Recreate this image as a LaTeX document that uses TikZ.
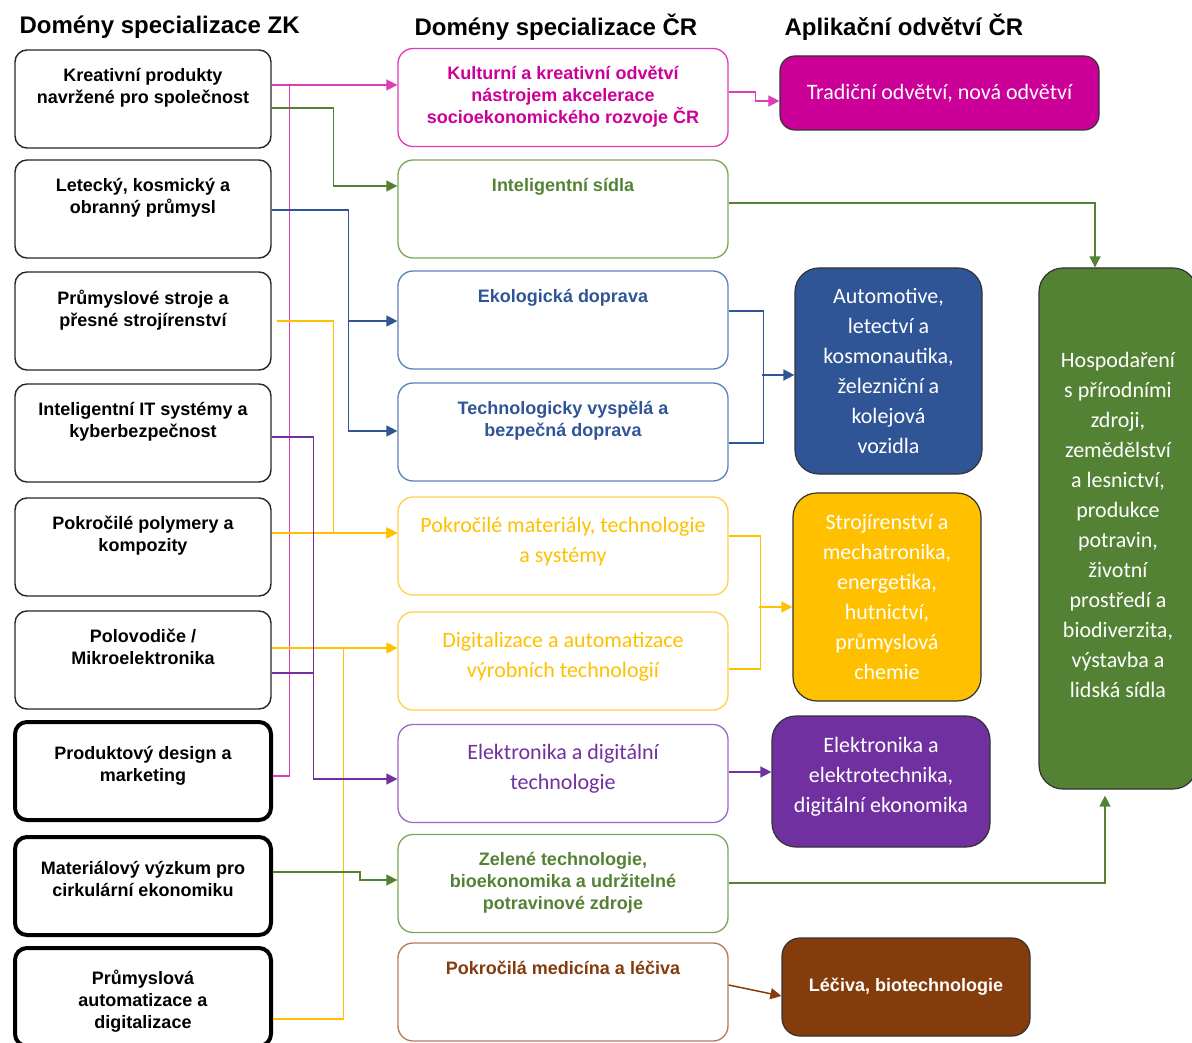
\documentclass[tikz,border=0pt]{standalone}
\usepackage{fontspec}
\setmainfont{Liberation Sans}
\newfontfamily\calibri{Carlito}
\usetikzlibrary{arrows.meta,positioning}

\definecolor{magC}{HTML}{CC0099}
\definecolor{magB}{HTML}{DC3CB6}
\definecolor{grnC}{HTML}{548235}
\definecolor{grnB}{HTML}{7AA65A}
\definecolor{bluC}{HTML}{2F5597}
\definecolor{bluB}{HTML}{5F80BE}
\definecolor{yelC}{HTML}{FFC000}
\definecolor{yelB}{HTML}{FFD04A}
\definecolor{purC}{HTML}{7030A0}
\definecolor{purB}{HTML}{9A68C6}
\definecolor{brnC}{HTML}{843C0C}
\definecolor{brnB}{HTML}{B47A58}

\begin{document}
\begin{tikzpicture}[x=1pt, y=-1pt,
    font=\fontsize{18}{22}\selectfont\bfseries,
    title/.style={anchor=west, font=\fontsize{24}{29}\selectfont\bfseries},
    lbox/.style={rectangle, draw=black!85, line width=1.4pt, rounded corners=12pt, minimum width=256pt, minimum height=98pt},
    lboxt/.style={lbox, draw=black, line width=4pt},
    mbox/.style={rectangle, draw=#1, line width=1.3pt, rounded corners=15pt, minimum width=330pt, minimum height=98pt},
    rbox/.style={rectangle, draw=black!80, line width=1.2pt, fill=#1, text=white, align=center, rounded corners=24pt, font=\calibri\fontsize{22}{30}\selectfont},
    ttxt/.style={anchor=north, align=center, yshift=-15pt},
    ctxt/.style={anchor=north, align=center, yshift=-17pt, font=\calibri\fontsize{22}{30}\selectfont},
    arr/.style={-{Triangle[length=11pt,width=11pt]}},
    link/.style={draw=#1, line width=1.5pt},
]
\useasboundingbox (0,0) rectangle (1192,1043);

% column titles
\node[title] (tzk) at (16,27) {Domény specializace ZK};
\node[title] (tcr) at (411,27) {Domény specializace ČR};
\node[title] (tap) at (781,27) {Aplikační odvětví ČR};

% left column
\node[lbox, label={[ttxt]north:Kreativní produkty\\navržené pro společnost}] (k1) at (143,99) {};
\node[lbox, label={[ttxt]north:Letecký, kosmický a\\obranný průmysl}] (k2) at (143,209) {};
\node[lbox, label={[ttxt]north:Průmyslové stroje a\\přesné strojírenství}] (k3) at (143,321) {};
\node[lbox, label={[ttxt]north:Inteligentní IT systémy a\\kyberbezpečnost}] (k4) at (143,433) {};
\node[lbox, label={[ttxt]north:Pokročilé polymery a\\kompozity}] (k5) at (143,547) {};
\node[lbox, label={[ttxt]north:Polovodiče /\\Mikroelektronika}] (k6) at (143,660) {};
\node[lboxt, label={[ttxt, yshift=-8pt]north:Produktový design a\\marketing}] (k7) at (143,771) {};
\node[lboxt, label={[ttxt, yshift=-8pt]north:Materiálový výzkum pro\\cirkulární ekonomiku}] (k8) at (143,886) {};
\node[lboxt, label={[ttxt, yshift=-6pt]north:Průmyslová\\automatizace a\\digitalizace}] (k9) at (143,997) {};

% middle column
\node[mbox=magB, label={[ttxt, text=magC]north:Kulturní a kreativní odvětví\\nástrojem akcelerace\\socioekonomického rozvoje ČR}] (m1) at (563,97.5) {};
\node[mbox=grnB, label={[ttxt, text=grnC]north:Inteligentní sídla}] (m2) at (563,209) {};
\node[mbox=bluB, label={[ttxt, text=bluC]north:Ekologická doprava}] (m3) at (563,320) {};
\node[mbox=bluB, label={[ttxt, text=bluC]north:Technologicky vyspělá a\\bezpečná doprava}] (m4) at (563,432) {};
\node[mbox=yelB, label={[ctxt, text=yelC]north:Pokročilé materiály, technologie\\a systémy}] (m5) at (563,546) {};
\node[mbox=yelB, label={[ctxt, text=yelC]north:Digitalizace a automatizace\\výrobních technologií}] (m6) at (563,661) {};
\node[mbox=purB, label={[ctxt, text=purC]north:Elektronika a digitální\\technologie}] (m7) at (563,773.5) {};
\node[mbox=grnB, label={[ttxt, text=grnC]north:Zelené technologie,\\bioekonomika a udržitelné\\potravinové zdroje}] (m8) at (563,883.5) {};
\node[mbox=brnB, label={[ttxt, text=brnC]north:Pokročilá medicína a léčiva}] (m9) at (563,992) {};

% right column
\node[rbox=magC, minimum width=319pt, minimum height=74pt, rounded corners=15pt] (trad) at (939.5,93) {Tradiční odvětví, nová odvětví};
\node[rbox=bluC, minimum width=187pt, minimum height=206pt] (auto) at (888.5,371) {Automotive,\\letectví a\\kosmonautika,\\železniční a\\kolejová\\vozidla};
\node[rbox=yelC, minimum width=188pt, minimum height=208pt] (stroj) at (887,597) {Strojírenství a\\mechatronika,\\energetika,\\hutnictví,\\průmyslová\\chemie};
\node[rbox=purC, minimum width=218pt, minimum height=131pt] (elek) at (881,781.5) {Elektronika a\\elektrotechnika,\\digitální ekonomika\\[-16pt]};
\node[rbox=brnC, minimum width=248pt, minimum height=98pt, rounded corners=18pt, font=\fontsize{18}{22}\selectfont\bfseries] (lec) at (906,987) {Léčiva, biotechnologie};
\node[rbox=grnC, minimum width=158pt, minimum height=521pt] (hosp) at (1118,528.5) {Hospodaření\\s přírodními\\zdroji,\\zemědělství\\a lesnictví,\\produkce\\potravin,\\životní\\prostředí a\\biodiverzita,\\výstavba a\\lidská sídla\\[-22pt]};

% left -> middle
\draw[link=magB, arr] ([yshift=14pt]k1.east) -- ([yshift=14pt]k1.east -| m1.west);
\draw[link=magB] ([yshift=-5pt]k7.east) -| ([xshift=18pt, yshift=14pt]k1.east);
\draw[link=grnC, arr] ([yshift=-9pt]k1.east) -- ++(62,0) |- ([yshift=23pt]m2.west);
\draw[link=bluC, arr] ([yshift=-1pt]k2.east) -- ++(77,0) coordinate (bsplit) |- ([yshift=-1pt]m3.west);
\draw[link=bluC, arr] (bsplit) |- ([yshift=1pt]m4.west);
\draw[link=yelC, arr] ([xshift=5pt]k3.east) -- ++(57,0) |- ([yshift=13pt]m5.west);
\draw[link=yelC, arr] ([yshift=14pt]k5.east) -- ([yshift=14pt]k5.east -| m5.west);
\draw[link=yelC, arr] ([yshift=12pt]k6.east) -- ([yshift=12pt]k6.east -| m6.west);
\draw[link=yelC] ([yshift=-22pt]k9.east) -| ([xshift=72pt, yshift=12pt]k6.east);
\draw[link=purC, arr] ([yshift=-4pt]k4.east) -- ++(42,0) |- ([yshift=-5.5pt]m7.west);
\draw[link=purC] ([yshift=-13pt]k6.east) -- ++(42,0);
\draw[link=grnC, arr] ([yshift=14pt]k8.east) -- ++(87,0) |- ([yshift=3.5pt]m8.west);

% middle -> right
\draw[link=magB, arr] ([yshift=5.5pt]m1.east) -- ++(27,0) |- ([yshift=-8pt]trad.west);
\draw[link=grnC, arr] ([yshift=6pt]m2.east) -| ([xshift=-23pt]hosp.north);
\draw[link=bluC] ([yshift=9pt]m3.east) -- ++(35,0) |- ([yshift=-11pt]m4.east);
\draw[link=bluC, arr] ([xshift=-32pt, yshift=-4pt]auto.west) -- ([yshift=-4pt]auto.west);
\draw[link=yelC] ([yshift=10pt]m5.east) -- ++(32,0) |- ([yshift=-8pt]m6.east);
\draw[link=yelC, arr] ([xshift=-33pt, yshift=-10pt]stroj.west) -- ([yshift=-10pt]stroj.west);
\draw[link=purC, arr] ([yshift=1.5pt]m7.east) -- ([yshift=1.5pt]m7.east -| elek.west);
\draw[link=grnC, arr] ([yshift=0.5pt]m8.east) -| ([xshift=-13pt, yshift=-6pt]hosp.south);
\draw[link=brnC, arr] ([yshift=7pt]m9.east) -- ([yshift=-9pt]lec.west);
\end{tikzpicture}
\end{document}
